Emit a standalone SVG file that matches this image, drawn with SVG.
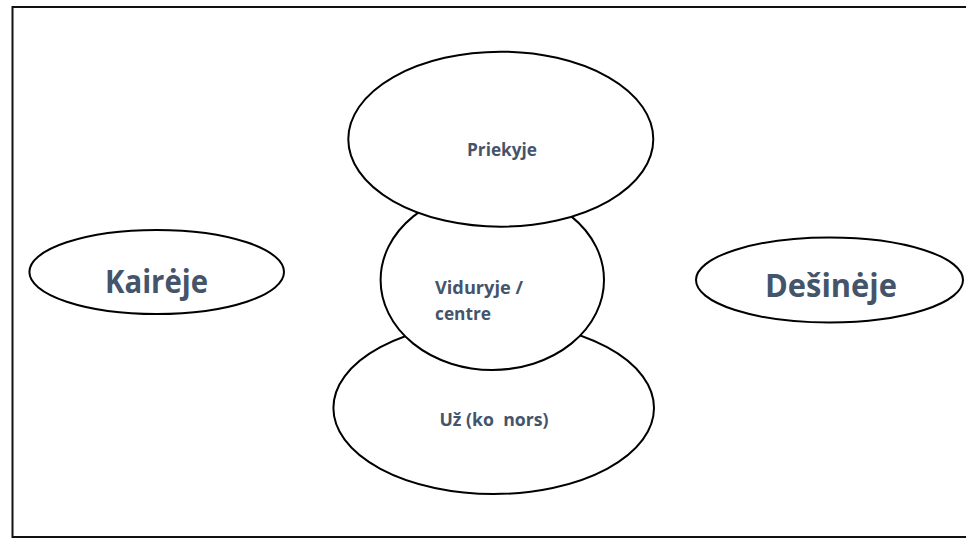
<svg xmlns="http://www.w3.org/2000/svg" width="966" height="539" viewBox="0 0 966 539">
  <style>
    .node { fill: #ffffff; stroke: #000000; stroke-width: 2; }
    .lbl { font-family: "Open Sans", "Noto Sans", "Liberation Sans", sans-serif; font-weight: bold; fill: #44546A; white-space: pre; }
    .big { font-size: 31.5px; }
    .small { font-size: 18px; }
  </style>
  <rect x="0" y="0" width="966" height="539" fill="#ffffff"/>
  <rect id="frame" x="12.5" y="7" width="962" height="530" fill="none" stroke="#111111" stroke-width="2"/>
  <g id="connectors"/>
  <g id="node-kaireje">
    <ellipse class="node" cx="156.7" cy="272" rx="127.3" ry="42"/>
    <text class="lbl big" x="105" y="293" textLength="103" lengthAdjust="spacingAndGlyphs">Kairėje</text>
  </g>
  <g id="node-desineje">
    <ellipse class="node" cx="829.5" cy="280" rx="133.5" ry="42.5"/>
    <text class="lbl big" x="765" y="297" textLength="132" lengthAdjust="spacingAndGlyphs">Dešinėje</text>
  </g>
  <g id="node-uz">
    <ellipse class="node" cx="493.7" cy="408" rx="160.3" ry="86"/>
    <text class="lbl small" x="439.5" y="426" textLength="109" lengthAdjust="spacingAndGlyphs">Už (ko  nors)</text>
  </g>
  <g id="node-viduryje">
    <ellipse class="node" cx="492.3" cy="280" rx="111.7" ry="90"/>
    <text class="lbl small" x="435" y="294" textLength="88" lengthAdjust="spacingAndGlyphs">Viduryje /</text>
    <text class="lbl small" x="435" y="319.5" textLength="56" lengthAdjust="spacingAndGlyphs">centre</text>
  </g>
  <g id="node-priekyje">
    <ellipse class="node" cx="500.8" cy="139.2" rx="152.5" ry="87.5"/>
    <text class="lbl small" x="467" y="156" textLength="70" lengthAdjust="spacingAndGlyphs">Priekyje</text>
  </g>
</svg>
